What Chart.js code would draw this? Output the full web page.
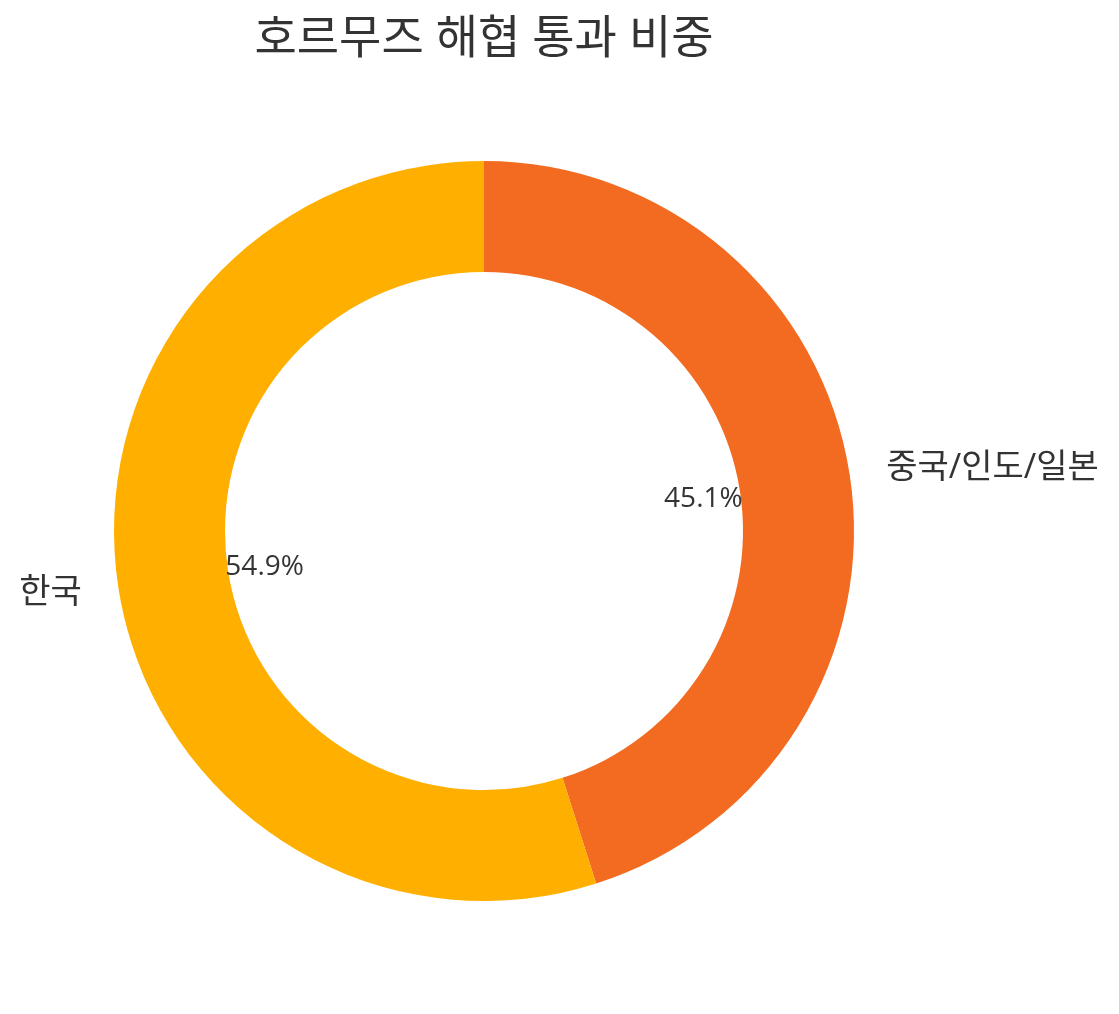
<!DOCTYPE html>
<html>
<head>
<meta charset="utf-8">
<script src="https://cdn.jsdelivr.net/npm/chart.js@4"></script>
<style>
  html, body { margin: 0; padding: 0; background: #fff; }
  #wrap { width: 1119px; height: 1014px; }
</style>
</head>
<body>
<div id="wrap"><canvas id="chart" width="1119" height="1014"></canvas></div>
<script>
const title = '호르무즈 해협 통과 비중';
const categories = ['중국/인도/일본', '한국'];
const shares = [45.1, 54.9];
const colors = ['#F26B21', '#FFAF00'];

const FONT = '"Open Sans", "Noto Sans CJK KR", sans-serif';

// labels outside the ring and percentages inside, like matplotlib's pie
const pieLabels = {
    id: 'pieLabels',
    afterDraw(chart) {
        const ctx = chart.ctx;
        const arcs = chart.getDatasetMeta(0).data;
        ctx.save();
        ctx.fillStyle = '#333333';
        arcs.forEach((arc, i) => {
            const mid = (arc.startAngle + arc.endAngle) / 2;
            const cos = Math.cos(mid), sin = Math.sin(mid);
            const r = arc.outerRadius;

            ctx.font = '28px ' + FONT;
            ctx.textAlign = 'center';
            ctx.textBaseline = 'middle';
            ctx.fillText(shares[i].toFixed(1) + '%', arc.x + cos * r * 0.6, arc.y + sin * r * 0.6 + 2);

            ctx.font = '34px ' + FONT;
            ctx.textAlign = cos >= 0 ? 'left' : 'right';
            ctx.fillText(categories[i], arc.x + cos * r * 1.1, arc.y + sin * r * 1.1);
        });

        ctx.font = '46px ' + FONT;
        ctx.textAlign = 'center';
        ctx.textBaseline = 'middle';
        ctx.fillText(title, arcs[0].x, 40);
        ctx.restore();
    }
};

new Chart(document.getElementById('chart'), {
    type: 'doughnut',
    data: {
        labels: categories,
        datasets: [{
            data: shares,
            backgroundColor: colors,
            borderWidth: 0
        }]
    },
    options: {
        responsive: false,
        animation: false,
        cutout: '70%',
        layout: { padding: { left: 114, right: 265, top: 161, bottom: 113 } },
        plugins: {
            legend: { display: false },
            tooltip: { enabled: false }
        }
    },
    plugins: [pieLabels]
});
</script>
</body>
</html>
